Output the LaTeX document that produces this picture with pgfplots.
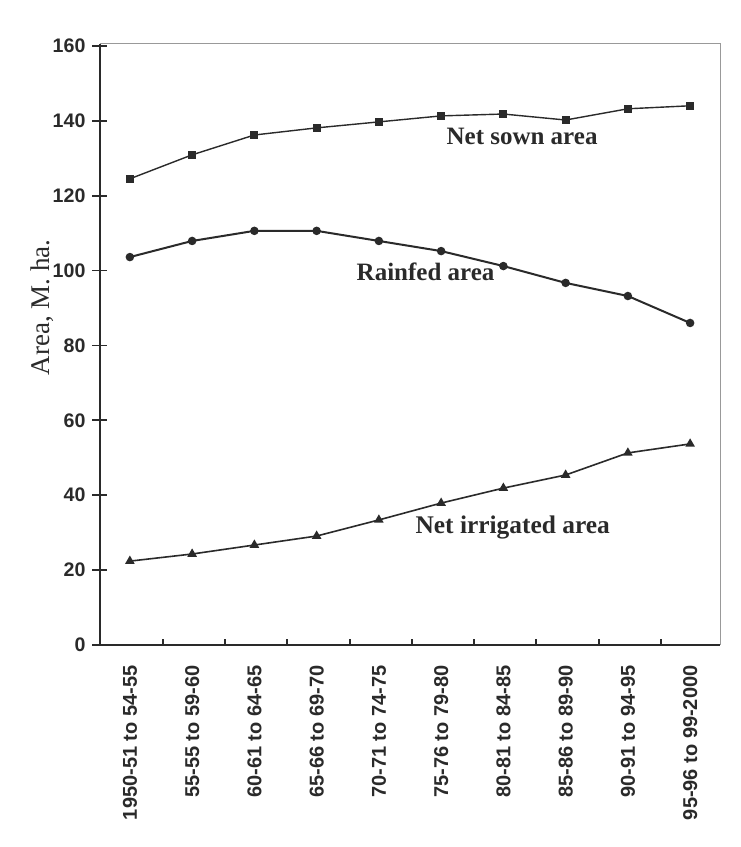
\documentclass[border=0pt]{standalone}
\usepackage{pgfplots}
\pgfplotsset{compat=1.18}
\usepackage{fontspec}
\setmainfont{Liberation Serif}
\newfontfamily\arialfont{Liberation Sans}
\definecolor{ink}{HTML}{2A2A2A}
\begin{document}
\begin{tikzpicture}
\useasboundingbox[fill=white] (-50pt,-101pt) rectangle (320pt,322.5pt);
\begin{axis}[
  at={(0,0)}, anchor=south west,
  scale only axis, width=310pt, height=300.5pt,
  xmin=-0.48, xmax=9.48, ymin=0, ymax=160.5,
  axis x line*=bottom, axis y line*=left,
  axis line style={draw=ink, line width=0.8pt},
  /pgf/number format/assume math mode=true,
  xtick={0,...,9},
  xticklabels={1950-51 to 54-55,55-55 to 59-60,60-61 to 64-65,65-66 to 69-70,70-71 to 74-75,75-76 to 79-80,80-81 to 84-85,85-86 to 89-90,90-91 to 94-95,95-96 to 99-2000},
  xtick style={draw=none},
  minor xtick={0.53,1.53,...,8.53},
  minor x tick style={draw=ink, line width=1pt, yshift=1.5pt},
  minor tick length=3pt,
  xticklabel shift=3pt,
  xticklabel style={rotate=90, anchor=east, font=\arialfont\bfseries\fontsize{10}{11}\selectfont, text=ink},
  ytick={0,20,...,160},
  ytick style={draw=ink, line width=0.9pt},
  major tick length=7.5pt,
  tick align=center,
  yticklabel style={font=\arialfont\bfseries\fontsize{9.8}{11}\selectfont, text=ink},
  ylabel={Area, M. ha.},
  ylabel style={at={(axis description cs:-0.094,0.562)}, anchor=center, font=\fontsize{13.5}{15}\selectfont, text=ink},
  every axis plot/.append style={draw=ink, mark options={fill=ink, draw=ink}},
  clip=false,
]
\draw[draw=gray!80, line width=0.5pt] (rel axis cs:0,1) -- (rel axis cs:1,1) -- (rel axis cs:1,0);
\addplot[line width=0.7pt, mark=square*, mark size=1.7pt] coordinates {
(0,124.5) (1,130.9) (2,136.2) (3,138.1) (4,139.7) (5,141.3) (6,141.8) (7,140.2) (8,143.2) (9,144.0)};
\addplot[line width=1pt, mark=*, mark size=1.6pt] coordinates {
(0,103.6) (1,107.9) (2,110.6) (3,110.6) (4,107.9) (5,105.2) (6,101.2) (7,96.7) (8,93.2) (9,86.0)};
\addplot[line width=0.8pt, mark=triangle*, mark size=2pt] coordinates {
(0,22.4) (1,24.3) (2,26.7) (3,29.1) (4,33.4) (5,37.9) (6,41.9) (7,45.4) (8,51.3) (9,53.7)};
\node[font=\bfseries\fontsize{12.5}{14}\selectfont, text=ink] at (axis cs:6.3,135.7) {Net sown area};
\node[font=\bfseries\fontsize{12.5}{14}\selectfont, text=ink] at (axis cs:4.75,99.6) {Rainfed area};
\node[font=\bfseries\fontsize{12.7}{14}\selectfont, text=ink] at (axis cs:6.15,31.5) {Net irrigated area};
\end{axis}
\end{tikzpicture}
\end{document}
